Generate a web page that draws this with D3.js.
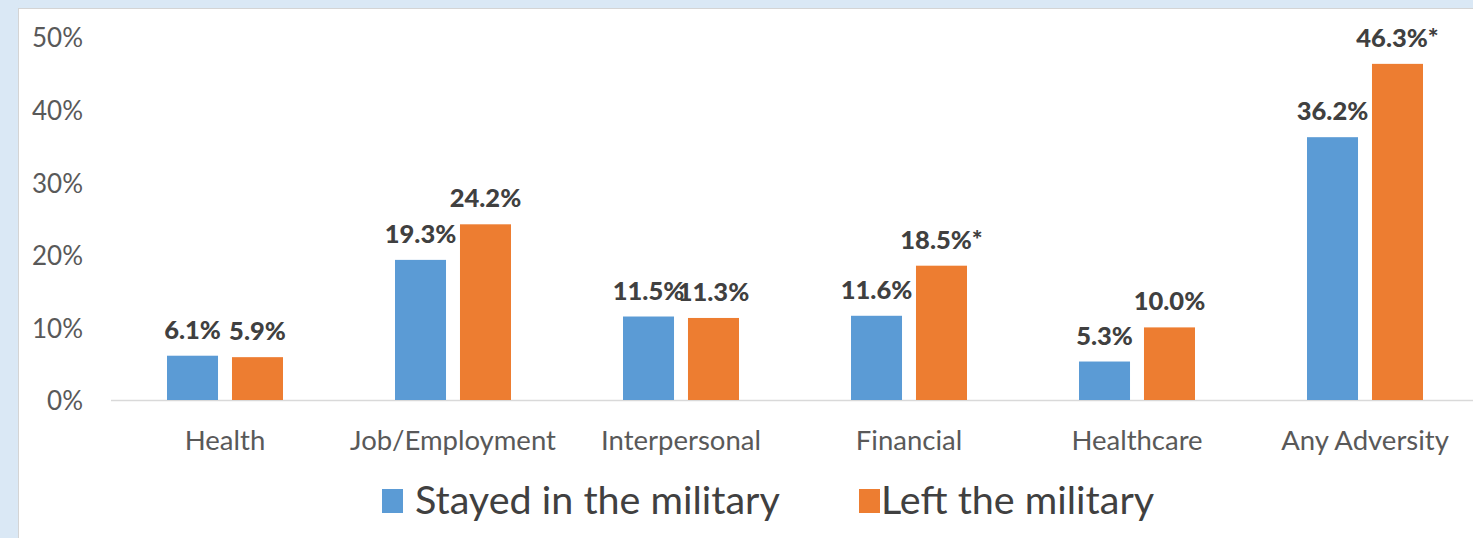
<!DOCTYPE html>
<html>
<head>
<meta charset="utf-8">
<script src="https://cdn.jsdelivr.net/npm/d3@7"></script>
<style>
  html, body { margin: 0; padding: 0; background: #dae8f5; }
  svg { display: block; }
</style>
</head>
<body>
<svg id="chart" width="1473" height="538"></svg>
<script>
const categories = ["Health", "Job/Employment", "Interpersonal", "Financial", "Healthcare", "Any Adversity"];
const seriesNames = ["Stayed in the military", "Left the military"];
const stayed = [6.1, 19.3, 11.5, 11.6, 5.3, 36.2];
const left = [5.9, 24.2, 11.3, 18.5, 10.0, 46.3];
const stayedLabels = ["6.1%", "19.3%", "11.5%", "11.6%", "5.3%", "36.2%"];
const leftLabels = ["5.9%", "24.2%", "11.3%", "18.5%*", "10.0%", "46.3%*"];
const yTicks = [0, 10, 20, 30, 40, 50];
const colors = ["#5b9bd5", "#ed7d31"];

const svg = d3.select("#chart");
const FONT = "Lato, 'Open Sans', sans-serif";

// white panel
svg.append("rect").attr("x", 18.5).attr("y", 8.5).attr("width", 1473).attr("height", 540)
  .attr("fill", "#ffffff").attr("stroke", "#d4d4d4").attr("stroke-width", 1);

const x0 = d3.scaleBand().domain(categories).range([111, 1479]).paddingInner(0).paddingOuter(0);
const x1 = d3.scaleBand().domain(seriesNames).range([0, 116]).paddingInner(0.215).paddingOuter(0);
const y = d3.scaleLinear().domain([0, 50]).range([400, 37]);

// y axis labels
const yAxis = d3.axisLeft(y).tickValues(yTicks).tickFormat(d => d + "%").tickSize(0).tickPadding(0);
const ya = svg.append("g").attr("transform", "translate(83,0)").call(yAxis);
ya.select(".domain").remove();
ya.selectAll("text").attr("font-family", FONT).attr("font-size", 26).attr("fill", "#595959").attr("dy", "0.38em");

// baseline
svg.append("line").attr("x1", 111).attr("x2", 1473).attr("y1", y(0) + 0.5).attr("y2", y(0) + 0.5)
  .attr("stroke", "#d9d9d9").attr("stroke-width", 1.5);

// x axis labels
const xAxis = d3.axisBottom(x0).tickSize(0).tickPadding(0);
const xa = svg.append("g").attr("transform", "translate(0,450)").call(xAxis);
xa.select(".domain").remove();
xa.selectAll("text").attr("font-family", FONT).attr("font-size", 27.5).attr("fill", "#595959").attr("dy", "0");

const data = categories.map((c, i) => ({
  cat: c,
  vals: [
    { s: seriesNames[0], v: stayed[i], lab: stayedLabels[i], ci: 0 },
    { s: seriesNames[1], v: left[i], lab: leftLabels[i], ci: 1 }
  ]
}));

const groups = svg.append("g").selectAll("g").data(data).join("g")
  .attr("transform", d => `translate(${x0(d.cat) + x0.bandwidth() / 2 - 58},0)`);

groups.selectAll("rect").data(d => d.vals).join("rect")
  .attr("x", d => x1(d.s))
  .attr("y", d => y(d.v))
  .attr("width", x1.bandwidth())
  .attr("height", d => y(0) - y(d.v))
  .attr("fill", d => colors[d.ci]);

groups.selectAll("text").data(d => d.vals).join("text")
  .attr("x", d => x1(d.s) + x1.bandwidth() / 2)
  .attr("y", d => y(d.v) - 17)
  .attr("text-anchor", "middle")
  .attr("font-family", FONT).attr("font-weight", "900").attr("font-size", 25.5)
  .attr("fill", "#404040")
  .text(d => d.lab);

// legend
const legendPos = [{ rx: 382, tx: 415 }, { rx: 859, tx: 881 }];
const lg = svg.append("g").selectAll("g").data(seriesNames).join("g");
lg.append("rect").attr("x", (d, i) => legendPos[i].rx).attr("y", 489).attr("width", 21).attr("height", 24)
  .attr("fill", (d, i) => colors[i]);
lg.append("text").attr("x", (d, i) => legendPos[i].tx).attr("y", 514)
  .attr("font-family", FONT).attr("font-size", 39.5).attr("fill", "#404040")
  .text(d => d);
</script>
</body>
</html>
